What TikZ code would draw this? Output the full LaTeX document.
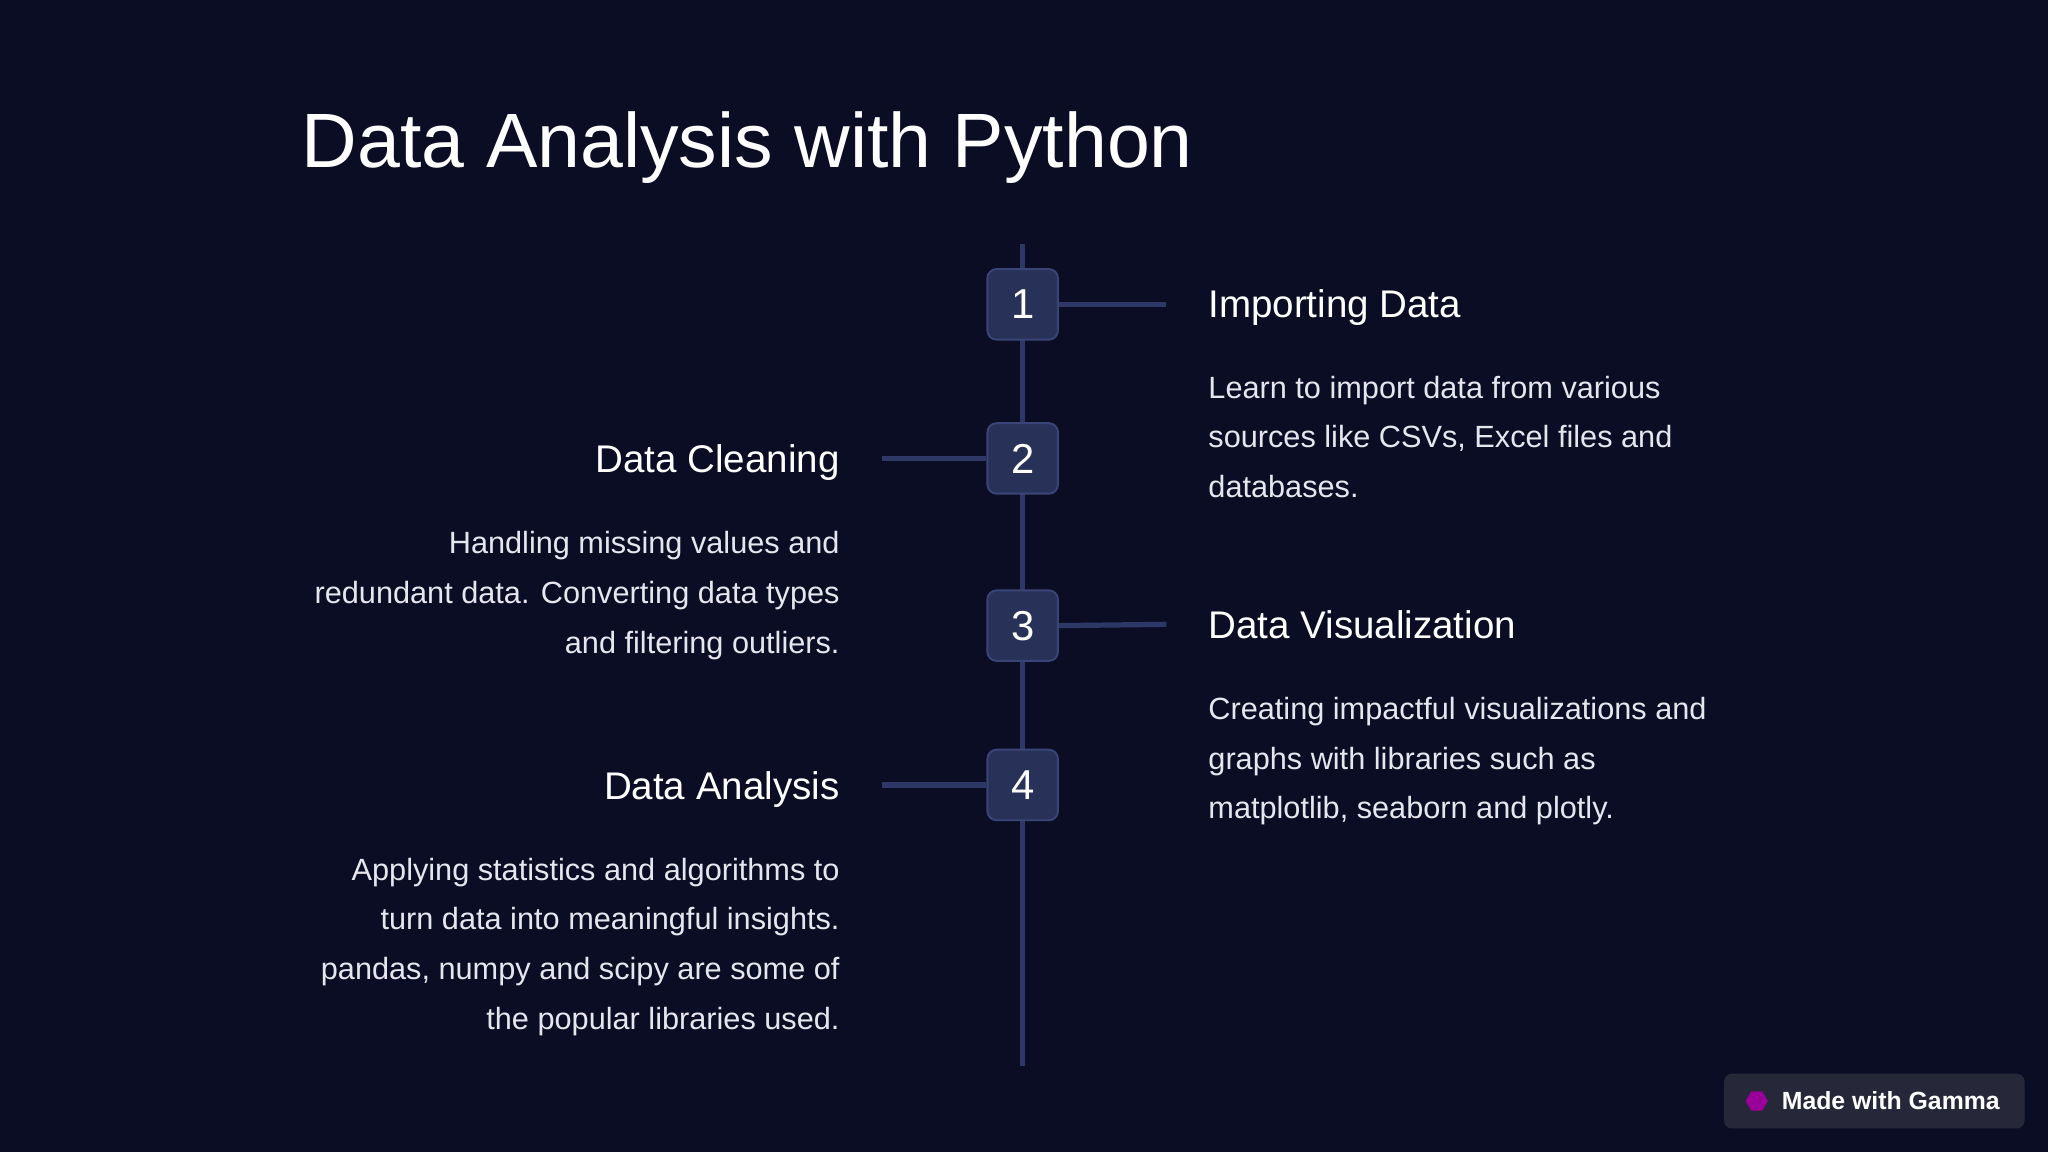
\documentclass[tikz,border=0pt]{standalone}
\usepackage{fontspec}
\setmainfont{Liberation Sans}
\usetikzlibrary{shapes.geometric}
\definecolor{bg}{HTML}{0B0D24}
\definecolor{ln}{HTML}{2E3866}
\definecolor{boxf}{HTML}{283158}
\definecolor{boxd}{HTML}{3A4577}
\definecolor{txt}{HTML}{E6E6EE}
\definecolor{badge}{HTML}{26283A}
\tikzset{
 numbox/.style={draw=boxd,fill=boxf,line width=1.5pt,rounded corners=7pt,minimum width=54pt,minimum height=54pt,text=white,font=\fontsize{32}{36}\selectfont},
 conn/.style={ln,line width=4pt},
 head/.style={text=white,font=\fontsize{29.5}{33}\selectfont,inner sep=0pt},
 body/.style={text=txt,font=\fontsize{23.5}{27}\selectfont,inner sep=0pt},
}
\begin{document}
\begin{tikzpicture}[x=1pt,y=-1pt]
\fill[bg] (0,0) rectangle (1568,882);
\useasboundingbox (0,0) rectangle (1568,882);
\node[anchor=base west,inner sep=0pt,text=white,font=\fontsize{59}{66}\selectfont] (title) at (231,128) {Data Analysis with Python};
\coordinate (top) at (783,187);
\coordinate (bot) at (783,816);
\draw[conn] (top) -- (bot);
\node[numbox] (b1) at (783,233) {\raisebox{-3pt}{1}};
\node[numbox] (b2) at (783,351) {\raisebox{-3pt}{2}};
\node[numbox] (b3) at (783,479) {\raisebox{-3pt}{3}};
\node[numbox] (b4) at (783,601) {\raisebox{-3pt}{4}};
\coordinate (e1) at (893,233);
\coordinate (e2) at (675,351);
\coordinate (e3) at (893,478);
\coordinate (e4) at (675,601);
\draw[conn] (b1.east) -- (e1);
\draw[conn] (b2.west) -- (e2);
\draw[conn] (b3.east) -- (e3);
\draw[conn] (b4.west) -- (e4);
% item 1
\node[head,anchor=base west] (h1) at (925,243) {Importing Data};
\node[body,anchor=base west] (t1a) at (925,305) {Learn to import data from various};
\node[body,anchor=base west] (t1b) at (925,343) {sources like CSVs, Excel files and};
\node[body,anchor=base west] (t1c) at (925,381) {databases.};
% item 2
\node[head,anchor=base east] (h2) at (643,362) {Data Cleaning};
\node[body,anchor=base east] (t2a) at (643,424) {Handling missing values and};
\node[body,anchor=base east] (t2b) at (643,462) {redundant data. Converting data types};
\node[body,anchor=base east] (t2c) at (643,500) {and filtering outliers.};
% item 3
\node[head,anchor=base west] (h3) at (925,489) {Data Visualization};
\node[body,anchor=base west] (t3a) at (925,551) {Creating impactful visualizations and};
\node[body,anchor=base west] (t3b) at (925,589) {graphs with libraries such as};
\node[body,anchor=base west] (t3c) at (925,627) {matplotlib, seaborn and plotly.};
% item 4
\node[head,anchor=base east] (h4) at (643,612) {Data Analysis};
\node[body,anchor=base east] (t4a) at (643,674) {Applying statistics and algorithms to};
\node[body,anchor=base east] (t4b) at (643,712) {turn data into meaningful insights.};
\node[body,anchor=base east] (t4c) at (643,750) {pandas, numpy and scipy are some of};
\node[body,anchor=base east] (t4d) at (643,788) {the popular libraries used.};
% badge
\fill[badge,rounded corners=6pt] (1320,822) rectangle (1550,864);
\node[regular polygon,regular polygon sides=6,fill=violet!80!magenta,minimum size=17pt,inner sep=0pt] (ic) at (1345,843) {};
\node[anchor=west,inner sep=0pt,text=white,font=\bfseries\fontsize{19}{22}\selectfont] (bt) at (1364,843) {Made with Gamma};
\end{tikzpicture}
\end{document}
